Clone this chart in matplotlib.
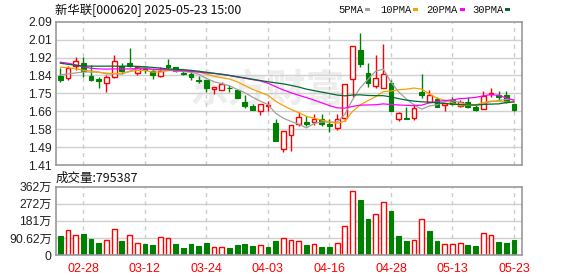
import numpy as np
import matplotlib
matplotlib.use("Agg")
import matplotlib.pyplot as plt
from matplotlib.patches import Rectangle

# daily candles, 2025-02-25 .. 2025-05-23 (60 trading days)
opens = [1.833, 1.822, 1.882, 1.895, 1.832, 1.818, 1.800, 1.827, 1.881, 1.895,
         1.846, 1.874, 1.857, 1.833, 1.885, 1.874, 1.846, 1.843, 1.815, 1.815,
         1.772, 1.766, 1.777, 1.764, 1.711, 1.692, 1.668, 1.689, 1.609, 1.486,
         1.551, 1.604, 1.612, 1.612, 1.628, 1.603, 1.586, 1.633, 1.817, 1.956,
         1.846, 1.783, 1.775, 1.798, 1.627, 1.632, 1.633, 1.755, 1.711, 1.723,
         1.696, 1.719, 1.691, 1.710, 1.683, 1.675, 1.747, 1.740, 1.740, 1.700]
highs = [1.870, 1.880, 1.922, 1.922, 1.884, 1.827, 1.837, 1.933, 1.893, 1.964,
         1.882, 1.882, 1.866, 1.877, 1.912, 1.877, 1.855, 1.855, 1.833, 1.815,
         1.780, 1.803, 1.791, 1.767, 1.741, 1.700, 1.700, 1.716, 1.630, 1.570,
         1.600, 1.660, 1.641, 1.653, 1.650, 1.628, 1.651, 1.794, 1.975, 2.038,
         1.896, 1.932, 1.984, 1.815, 1.662, 1.684, 1.699, 1.843, 1.764, 1.732,
         1.703, 1.735, 1.719, 1.732, 1.696, 1.762, 1.774, 1.762, 1.762, 1.700]
lows = [1.803, 1.815, 1.862, 1.826, 1.807, 1.774, 1.755, 1.825, 1.843, 1.873,
        1.837, 1.846, 1.818, 1.827, 1.862, 1.849, 1.837, 1.815, 1.799, 1.755,
        1.745, 1.764, 1.755, 1.726, 1.681, 1.673, 1.645, 1.668, 1.522, 1.472,
        1.478, 1.593, 1.593, 1.601, 1.596, 1.568, 1.576, 1.617, 1.735, 1.877,
        1.778, 1.775, 1.775, 1.664, 1.617, 1.630, 1.625, 1.730, 1.708, 1.685,
        1.664, 1.696, 1.685, 1.680, 1.664, 1.675, 1.735, 1.719, 1.703, 1.664]
closes = [1.811, 1.870, 1.904, 1.854, 1.815, 1.810, 1.826, 1.904, 1.854, 1.881,
          1.874, 1.859, 1.837, 1.854, 1.877, 1.855, 1.840, 1.826, 1.808, 1.775,
          1.778, 1.793, 1.774, 1.726, 1.692, 1.673, 1.700, 1.693, 1.522, 1.570,
          1.598, 1.636, 1.604, 1.628, 1.606, 1.597, 1.628, 1.794, 1.975, 1.887,
          1.798, 1.822, 1.843, 1.664, 1.657, 1.630, 1.680, 1.744, 1.740, 1.687,
          1.703, 1.700, 1.707, 1.685, 1.672, 1.738, 1.752, 1.734, 1.711, 1.672]

ma5 = [1.838, 1.842, 1.847, 1.851, 1.851, 1.851, 1.842, 1.842, 1.842, 1.855,
       1.868, 1.874, 1.861, 1.861, 1.860, 1.856, 1.853, 1.850, 1.841, 1.821,
       1.805, 1.796, 1.786, 1.769, 1.753, 1.732, 1.713, 1.697, 1.656, 1.632,
       1.617, 1.604, 1.586, 1.607, 1.614, 1.614, 1.613, 1.651, 1.720, 1.776,
       1.816, 1.855, 1.865, 1.803, 1.757, 1.723, 1.695, 1.675, 1.690, 1.696,
       1.711, 1.715, 1.707, 1.696, 1.693, 1.700, 1.711, 1.716, 1.721, 1.721]
ma10 = [1.874, 1.872, 1.866, 1.860, 1.856, 1.850, 1.846, 1.844, 1.846, 1.853,
        1.859, 1.858, 1.851, 1.851, 1.858, 1.862, 1.864, 1.856, 1.851, 1.841,
        1.831, 1.824, 1.818, 1.805, 1.787, 1.769, 1.755, 1.741, 1.713, 1.692,
        1.674, 1.658, 1.641, 1.632, 1.623, 1.615, 1.608, 1.618, 1.664, 1.695,
        1.715, 1.734, 1.758, 1.761, 1.767, 1.770, 1.775, 1.770, 1.747, 1.727,
        1.717, 1.705, 1.691, 1.693, 1.695, 1.706, 1.713, 1.712, 1.709, 1.707]
ma20 = [1.898, 1.893, 1.885, 1.876, 1.869, 1.866, 1.865, 1.866, 1.866, 1.866,
        1.867, 1.866, 1.865, 1.863, 1.862, 1.860, 1.857, 1.854, 1.851, 1.847,
        1.845, 1.841, 1.835, 1.828, 1.822, 1.815, 1.809, 1.798, 1.782, 1.766,
        1.753, 1.741, 1.730, 1.718, 1.705, 1.692, 1.681, 1.680, 1.688, 1.694,
        1.695, 1.696, 1.700, 1.697, 1.695, 1.693, 1.692, 1.694, 1.705, 1.711,
        1.716, 1.719, 1.725, 1.727, 1.731, 1.738, 1.744, 1.741, 1.728, 1.717]
ma30 = [1.893, 1.888, 1.883, 1.880, 1.879, 1.879, 1.879, 1.879, 1.879, 1.879,
        1.878, 1.876, 1.873, 1.870, 1.866, 1.864, 1.862, 1.859, 1.855, 1.850,
        1.845, 1.840, 1.835, 1.829, 1.823, 1.817, 1.811, 1.805, 1.800, 1.795,
        1.788, 1.780, 1.770, 1.763, 1.756, 1.749, 1.742, 1.738, 1.742, 1.743,
        1.740, 1.739, 1.739, 1.733, 1.725, 1.718, 1.713, 1.710, 1.708, 1.705,
        1.702, 1.699, 1.697, 1.695, 1.695, 1.697, 1.699, 1.700, 1.706, 1.710]

# volume in 万 shares, and whether the bar is drawn red (up)
volumes = [103, 135, 107, 114, 87, 66, 82, 139, 76, 107,
           64, 60, 55, 98, 92, 60, 39, 60, 50, 66,
           43, 43, 39, 55, 60, 50, 55, 44, 76, 92,
           79, 74, 53, 58, 42, 42, 63, 153, 338, 290,
           190, 216, 280, 232, 100, 74, 79, 190, 127, 74,
           58, 58, 63, 53, 48, 116, 106, 69, 63, 79.5]
vol_up = [0, 1, 1, 0, 0, 0, 1, 1, 0, 1,
          1, 0, 0, 1, 1, 0, 0, 0, 0, 0,
          1, 1, 0, 0, 0, 0, 1, 0, 0, 1,
          1, 1, 0, 1, 0, 0, 1, 1, 1, 0,
          0, 1, 1, 0, 0, 0, 1, 1, 0, 0,
          1, 1, 1, 0, 0, 1, 1, 0, 0, 0]

date_ticks = [3, 11, 19, 27, 35, 43, 51, 59]
date_labels = ['02-28', '03-12', '03-24', '04-03', '04-16', '04-28', '05-13', '05-23']
price_labels = ['1.41', '1.49', '1.58', '1.66', '1.75', '1.84', '1.92', '2.01', '2.09']
vol_labels = ['0', '90.62万', '181万', '272万', '362万']
ma_names = ['5PMA', '10PMA', '20PMA', '30PMA']
ma_colors = ['#a0a0a0', '#f5a300', '#ff00ff', '#006b2f']

RED = '#ff0000'
GREEN = '#008000'
W, H = 578, 276
fig = plt.figure(figsize=(W / 100, H / 100), dpi=100)
fig.patch.set_facecolor('white')


def fx(px):
    return px / W


def fy(py):
    return 1 - py / H


ax = fig.add_axes([fx(56), fy(165), (522 - 56) / W, (165 - 21.7) / H])
axv = fig.add_axes([fx(56), fy(255), (522 - 56) / W, (255 - 186.7) / H])

xs = np.arange(len(closes))
bw = 0.62
tick_font = dict(family=['Liberation Sans', 'Noto Sans CJK SC'], size=8.7)

# watermark
ax.text(27, 1.76, '东方财富', fontsize=28, color='#ededed', fontweight='bold',
        family='Noto Sans CJK SC', ha='center', va='center', zorder=0)

for i in xs:
    o, h, l, c = opens[i], highs[i], lows[i], closes[i]
    if c >= o:
        ax.vlines(i, l, o, color=RED, lw=1, zorder=2)
        ax.vlines(i, c, h, color=RED, lw=1, zorder=2)
        ax.add_patch(Rectangle((i - bw / 2, o), bw, max(c - o, 0.002),
                               facecolor='white', edgecolor=RED, lw=1, zorder=2))
    else:
        ax.vlines(i, l, h, color=GREEN, lw=1, zorder=2)
        ax.add_patch(Rectangle((i - bw / 2, c), bw, max(o - c, 0.002),
                               facecolor=GREEN, edgecolor=GREEN, lw=0.8, zorder=2))

for series, col in zip([ma5, ma10, ma20, ma30], ma_colors):
    ax.plot(xs, series, color=col, lw=0.9, zorder=3)

for i in xs:
    if vol_up[i]:
        axv.add_patch(Rectangle((i - bw / 2, 0), bw, volumes[i],
                                facecolor='white', edgecolor=RED, lw=1, zorder=2))
    else:
        axv.add_patch(Rectangle((i - bw / 2, 0), bw, volumes[i],
                                facecolor=GREEN, edgecolor=GREEN, lw=0.8, zorder=2))

price_ticks = np.linspace(1.41, 2.09, 9)
vol_ticks = np.linspace(0, 362.48, 5)
for a, yt, yl in ((ax, price_ticks, price_labels), (axv, vol_ticks, vol_labels)):
    a.set_xlim(-0.56, 60.04)
    a.set_ylim(yt[0], yt[-1])
    a.set_yticks(yt)
    a.set_yticklabels(yl, **tick_font)
    a.set_xticks(date_ticks)
    a.tick_params(length=0, pad=3, colors='#222222')
    for yv in yt[1:-1]:
        a.axhline(yv, color='#d0d0d0', lw=1, zorder=1)
    for xv in date_ticks:
        a.axvline(xv, color='#cccccc', lw=1, ls=(0, (3, 3)), zorder=1)
    for s in a.spines.values():
        s.set_color('#9a9a9a')
        s.set_linewidth(1.2)

ax.set_xticklabels([])
axv.set_xticklabels(date_labels, family='Liberation Sans', size=9, color=RED)
axv.tick_params(axis='x', pad=6, colors=RED)

# header texts
fig.text(fx(55), fy(14), '新华联[000620] 2025-05-23 15:00', family='Noto Sans CJK SC',
         fontsize=8.9, color='#111111', va='baseline')
fig.text(fx(56), fy(182), '成交量:795387', family='Noto Sans CJK SC',
         fontsize=9, color='#111111', va='baseline')

# legend: name, then a short coloured dash
name_x = [338, 380, 426, 472]
dash_x = [365, 413, 460, 505]
for name, px, dx, col in zip(ma_names, name_x, dash_x, ma_colors):
    fig.text(fx(px), fy(13), name, family='Liberation Mono', fontsize=7.6,
             color='#111111', va='baseline')
    fig.patches.append(Rectangle((fx(dx), fy(10.5)), 5 / W, 2.5 / H,
                                 transform=fig.transFigure, facecolor=col,
                                 edgecolor='none'))

fig.savefig('out.png', dpi=100, facecolor='white')
